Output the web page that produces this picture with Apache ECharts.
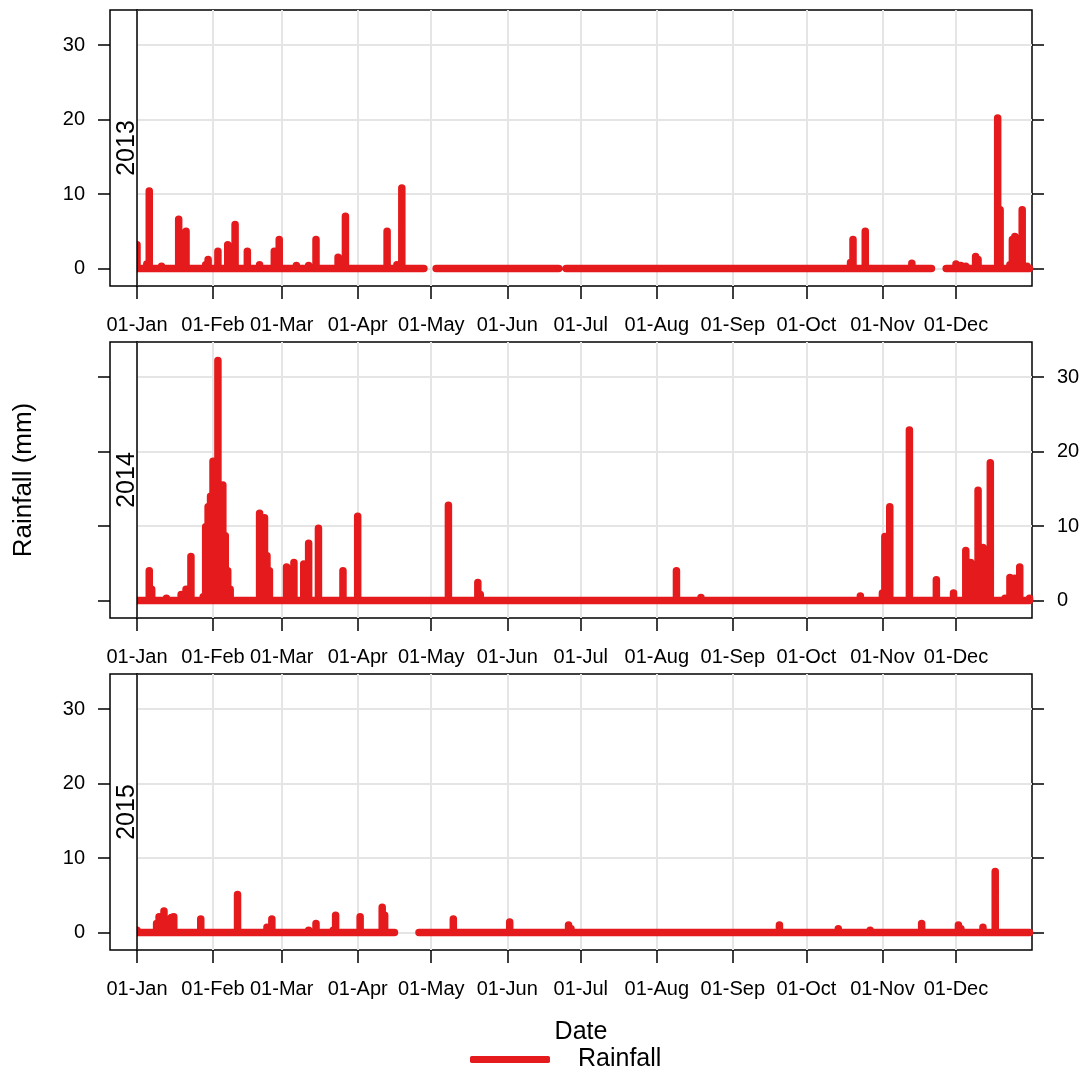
<!DOCTYPE html>
<html><head><meta charset="utf-8">
<script src="https://cdn.jsdelivr.net/npm/echarts@6/dist/echarts.min.js"></script>
<style>html,body{margin:0;padding:0;background:#fff}#c{width:1086px;height:1072px}</style>
</head><body><div id="c"></div>
<script>
const years = ['2013', '2014', '2015'];
const monthStarts = [0, 31, 59, 90, 120, 151, 181, 212, 243, 273, 304, 334];
const monthLabels = ['01-Jan','01-Feb','01-Mar','01-Apr','01-May','01-Jun','01-Jul','01-Aug','01-Sep','01-Oct','01-Nov','01-Dec'];
const yTicks = [0, 10, 20, 30];

// rainy days (day of year, 0 = 01-Jan) and rainfall (mm); all other recorded days are 0
const rain2013Days = [0,4,5,10,17,18,20,28,29,33,37,40,45,50,56,58,65,70,73,82,85,102,106,108,137,190,291,292,297,316,319,334,336,338,342,343,351,352,356,357,358,361,363];
const rain2013Vals = [3.2,0.6,10.4,0.3,6.6,1.2,5.0,0.5,1.2,2.3,3.2,5.9,2.3,0.5,2.3,3.9,0.4,0.4,3.9,1.5,7.0,5.0,0.5,10.8,0.2,0.2,0.8,3.9,5.0,0.7,0.2,0.6,0.4,0.3,1.6,1.2,20.2,7.9,0.5,3.9,4.3,7.9,0.3];
const missing2013 = [118,119,120,121,173,174,325,326,327,328,329];

const rain2014Days = [5,6,12,18,20,22,27,28,29,30,31,32,33,34,35,36,37,38,50,51,52,53,54,61,62,64,68,70,74,77,84,90,127,139,140,220,230,295,304,305,307,313,315,326,333,338,340,341,342,343,345,347,348,354,356,358,360,364];
const rain2014Vals = [4.0,1.5,0.3,0.8,1.5,5.9,0.5,9.9,12.6,14.0,18.7,6.0,32.2,10.0,15.5,8.7,4.0,1.5,11.7,5.0,11.1,6.0,4.0,4.5,2.0,5.1,4.9,7.7,9.7,0.2,4.0,11.3,12.8,2.4,0.8,4.0,0.4,0.6,1.0,8.6,12.6,0.1,22.9,2.8,1.0,6.7,5.1,1.0,3.0,14.8,7.1,6.2,18.5,0.3,3.1,3.0,4.5,0.3];
const missing2014 = [];

const rain2015Days = [0,8,9,11,14,15,20,26,41,53,55,70,73,80,81,83,91,100,101,129,152,161,176,177,262,286,299,320,335,336,345,350];
const rain2015Vals = [0.3,1.2,2.1,2.9,2.0,2.1,0.1,1.8,5.1,0.7,1.8,0.3,1.2,0.3,2.3,0.2,2.1,3.4,2.3,1.8,1.4,0.1,1.0,0.5,1.0,0.5,0.3,1.2,1.0,0.5,0.7,8.2];
const missing2015 = [106,107,108,109,110,111,112,113,114];

// each recorded day: baseline at 0 plus a vertical stroke up to the day's rainfall
function buildSeries(days, vals, missing) {
  const m = {};
  days.forEach((d, i) => { m[d] = vals[i]; });
  const out = [];
  for (let d = 0; d < 365; d++) {
    if (missing.indexOf(d) >= 0) { out.push([d, '-']); continue; }
    out.push([d, 0]);
    if (m[d] !== undefined) { out.push([d, m[d]]); out.push([d, 0]); }
  }
  return out;
}
const seriesData = [
  buildSeries(rain2013Days, rain2013Vals, missing2013),
  buildSeries(rain2014Days, rain2014Vals, missing2014),
  buildSeries(rain2015Days, rain2015Vals, missing2015)
];

const FONT = 'Liberation Sans, Arial, sans-serif';
const tops = [10, 342, 674];
const H = 276;
const RED = '#E41A1C';
const GRIDC = '#e5e5e5';

const grid = [], xAxis = [], yAxis = [], series = [], graphic = [];
tops.forEach((t, i) => {
  grid.push({ left: 137, right: 54, top: t, height: H, show: true, borderColor: '#000', borderWidth: 1.5, backgroundColor: 'transparent' });
  xAxis.push({
    type: 'value', gridIndex: i, min: 0, max: 365, position: 'bottom',
    axisLine: { show: false, onZero: false },
    axisTick: { show: true, inside: false, customValues: monthStarts, length: 13, lineStyle: { color: '#000', width: 1.5 } },
    axisLabel: { show: true, customValues: monthStarts, fontSize: 20, fontFamily: FONT, color: '#000', margin: 29,
      formatter: v => monthLabels[monthStarts.indexOf(v)] },
    splitLine: { show: true, lineStyle: { color: GRIDC, width: 2 } }
  });
  const labelLeft = i !== 1;
  ['left', 'right'].forEach(pos => {
    const showLab = (pos === 'left') === labelLeft;
    yAxis.push({
      type: 'value', gridIndex: i, position: pos, min: -2.35, max: 34.7,
      offset: pos === 'left' ? 27 : 0,
      axisLine: { show: false, onZero: false },
      axisTick: { show: true, inside: false, customValues: yTicks, length: 12, lineStyle: { color: '#000', width: 1.5 } },
      axisLabel: { show: showLab, customValues: yTicks, fontSize: 20, fontFamily: FONT, color: '#000', margin: 25 },
      splitLine: { show: pos === 'left', lineStyle: { color: GRIDC, width: 2 } }
    });
  });
  series.push({
    name: 'Rainfall', type: 'line', xAxisIndex: i, yAxisIndex: 2 * i,
    data: seriesData[i], showSymbol: false, symbol: 'none', connectNulls: false,
    lineStyle: { color: RED, width: 7.5, cap: 'round', join: 'round' },
    itemStyle: { color: RED }, animation: false
  });
  graphic.push({ type: 'rect', shape: { x: 110, y: t, width: 27, height: H }, style: { fill: '#fff', stroke: '#000', lineWidth: 1.5 }, z: 10 });
  graphic.push({ type: 'text', x: 127, y: t + H / 2, rotation: Math.PI / 2, z: 11,
    style: { text: years[i], font: '25px ' + FONT, fill: '#000', align: 'center', verticalAlign: 'middle' } });
});
graphic.push({ type: 'text', x: 24, y: 480, rotation: Math.PI / 2,
  style: { text: 'Rainfall (mm)', font: '26px ' + FONT, fill: '#000', align: 'center', verticalAlign: 'middle' } });
graphic.push({ type: 'text', x: 581, y: 1032,
  style: { text: 'Date', font: '25px ' + FONT, fill: '#000', align: 'center', verticalAlign: 'middle' } });

const chart = echarts.init(document.getElementById('c'), null, { renderer: 'canvas' });
chart.setOption({
  animation: false,
  backgroundColor: '#fff',
  grid, xAxis, yAxis, series, graphic,
  legend: {
    data: ['Rainfall'], left: 465, top: 1042, icon: 'roundRect', itemWidth: 80, itemHeight: 7,
    textStyle: { fontSize: 25, fontFamily: FONT, color: '#000', padding: [0, 0, 0, 23] }
  }
});
</script>
</body></html>
